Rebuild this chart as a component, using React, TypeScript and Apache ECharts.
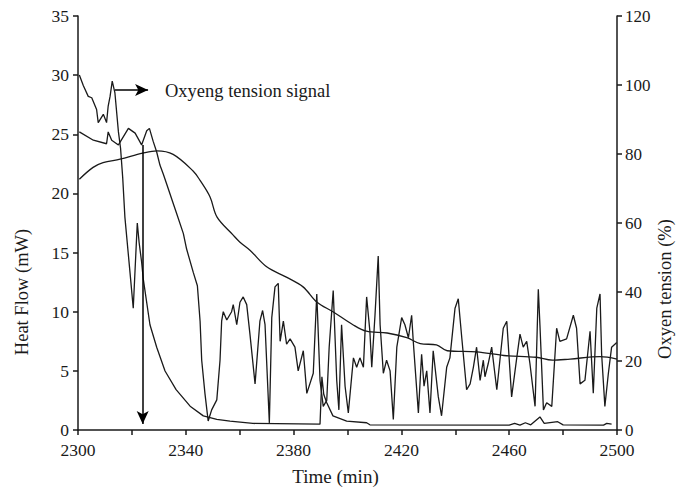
import React, { useEffect, useRef } from "react";
import * as echarts from "echarts";

// Smooth heat-flow curve (left axis, mW)
const heatTimes = [2300.5, 2305.6, 2309.3, 2315.6, 2324, 2329.3, 2335.3, 2342.7, 2345.3, 2349, 2351.6, 2357.5, 2360, 2363.8, 2370, 2377.5, 2383.5, 2388.7, 2394.6, 2402, 2407, 2414.7, 2422, 2427, 2433, 2437, 2448, 2458, 2470, 2476, 2482.6, 2493.7, 2500];
const heatValues = [21.2, 22.2, 22.6, 22.9, 23.4, 23.6, 23.3, 21.9, 21.1, 19.7, 18.0, 16.5, 15.9, 15.2, 13.8, 12.9, 12.1, 10.8, 10.0, 8.9, 8.35, 8.2, 7.8, 7.3, 7.2, 6.7, 6.6, 6.3, 6.15, 5.9, 6.0, 6.2, 6.0];

// Noisy curve (left axis, mW)
const noisyTimes = [2300.5, 2305.7, 2310.6, 2311.2, 2312.5, 2315, 2318.7, 2321.2, 2323.6, 2325.5,
  2326.5, 2327.9, 2329.2, 2330.4, 2331.7, 2332.9, 2335.4, 2336.6, 2339.1, 2340.3,
  2342.8, 2344.3, 2345.3, 2345.9, 2347.1, 2348.3, 2349.6, 2351.5, 2352.7, 2353.3,
  2353.9, 2355.2, 2357, 2357.6, 2358.9, 2360.1, 2361.3, 2362.6, 2363.8, 2365.7,
  2367.5, 2368.5, 2369.4, 2371, 2371.9, 2373.1, 2374.3, 2375, 2376.2, 2377.4,
  2378.7, 2380.5, 2381.7, 2383.6, 2384.9, 2387.3, 2388.6, 2389.8, 2391, 2392.3,
  2393.2, 2394.7, 2396, 2396.8, 2397.8, 2399.1, 2400.3, 2402.2, 2403.4, 2404.6,
  2405.9, 2407.1, 2408.3, 2409, 2410.2, 2411.4, 2412.1, 2413.3, 2414.5, 2415.8,
  2417, 2418.3, 2420.1, 2421.3, 2422.6, 2423.8, 2424.4, 2426.3, 2427.5, 2428.4,
  2429.4, 2430.6, 2431.8, 2433.7, 2434.9, 2436.8, 2438, 2439.9, 2441.1, 2442.4,
  2444.2, 2445.5, 2446.7, 2447.9, 2449.2, 2450.4, 2451, 2452.2, 2453.5, 2455.4,
  2457.8, 2459.1, 2460.9, 2462.8, 2464, 2465.2, 2466.5, 2467.7, 2469.6, 2470.8,
  2471.4, 2472.7, 2473.9, 2475.8, 2477.6, 2478.8, 2481.3, 2483.8, 2485, 2486.3,
  2488.1, 2490, 2491.2, 2492.5, 2493.7, 2494.3, 2495.5, 2496.8, 2498, 2499.9];
const noisyValues = [25.2, 24.5, 24.2, 25.2, 24.5, 24.1, 25.5, 25.1, 24.1, 25.3,
  25.5, 24.4, 23.5, 22.4, 21.6, 20.8, 19.1, 18.3, 16.6, 15.3,
  13.3, 12.2, 9.2, 5.9, 3.1, 0.76, 1.7, 2.55, 5.9, 9.2,
  10.0, 9.3, 10.0, 10.6, 8.9, 10.8, 11.25, 10.6, 8.1, 3.9,
  9.2, 10.1, 8.9, 0.6, 9.5, 12.1, 12.4, 7.5, 9.2, 7.25,
  7.7, 7.0, 5.0, 6.7, 3.1, 4.8, 11.5, 4.2, 2.0, 2.5,
  7.0, 11.8, 4.2, 1.7, 8.9, 3.7, 1.45, 6.1, 5.3, 6.1,
  5.3, 11.25, 8.35, 5.3, 9.7, 14.7, 8.9, 4.8, 5.9, 5.0,
  0.9, 7.0, 9.5, 8.9, 7.8, 9.7, 7.5, 1.45, 6.4, 3.7,
  5.0, 1.45, 6.7, 2.8, 1.2, 5.3, 6.1, 10.3, 11.1, 7.8,
  3.4, 3.9, 5.3, 7.0, 4.2, 5.9, 4.5, 5.6, 7.0, 3.4,
  8.6, 9.2, 2.8, 6.1, 8.1, 7.0, 7.5, 5.6, 2.0, 11.9,
  8.9, 1.7, 2.3, 2.0, 8.6, 7.5, 7.7, 9.7, 8.6, 3.9,
  4.2, 8.35, 3.1, 10.3, 11.5, 6.4, 2.0, 4.8, 7.0, 7.4];

// Oxygen tension signal (right axis, %)
const oxyTimes = [2300.5, 2302, 2303.8, 2305.1, 2306.9, 2307.5, 2309.4, 2310.6, 2311.2, 2311.9,
  2312.7, 2313.7, 2315, 2315.8, 2316.6, 2317.4, 2319.3, 2320.5, 2322, 2322.7,
  2323.6, 2324.2, 2326.7, 2329.2, 2332.3, 2336.4, 2341.6, 2346.5, 2351.5, 2356.4,
  2364.9, 2389.8, 2390.5, 2391.2, 2392.3, 2394.6, 2399.7, 2407.1, 2408.3, 2460,
  2462, 2464, 2466, 2468, 2471.4, 2473, 2478, 2480, 2495, 2496.2, 2498];
const oxyValues = [102.9, 99.8, 96.7, 96.3, 92.9, 89.1, 91.5, 89.1, 93.9, 96.7,
  101.1, 97.7, 86.4, 81.6, 73.0, 61.7, 45.6, 35.3, 60.0, 54.2,
  48.7, 43.9, 30.5, 24.0, 17.1, 11.7, 6.9, 4.1, 3.1, 2.6,
  1.9, 1.7, 15.4, 10.3, 7.9, 4.1, 2.6, 2.1, 1.5, 1.4,
  1.9, 1.4, 2.1, 1.5, 3.8, 1.9, 2.4, 1.5, 1.4, 1.9, 1.7];

const xTicks = [2300, 2340, 2380, 2420, 2460, 2500];

const zip = (t: number[], v: number[]) => t.map((x, i) => [x, v[i]]);

const FONT = "Liberation Serif, Times New Roman, serif";
const INK = "#1a1a1a";

export default function App() {
  const ref = useRef<HTMLDivElement>(null);
  useEffect(() => {
    if (!ref.current) return;
    const chart = echarts.init(ref.current, undefined, { renderer: "svg" });
    const axisCommon = {
      axisLine: { show: true, lineStyle: { color: INK, width: 1.5 } },
      axisTick: { show: true, inside: false, length: 5, lineStyle: { color: INK, width: 1.5 } },
      splitLine: { show: false },
      axisLabel: { color: INK, fontFamily: FONT, fontSize: 17.5 },
    };
    chart.setOption({
      animation: false,
      backgroundColor: "#ffffff",
      grid: { left: 78, right: 63, top: 16, bottom: 53.5, containLabel: false },
      xAxis: {
        type: "value",
        min: 2300,
        max: 2500,
        interval: 20,
        ...axisCommon,
        axisLabel: {
          ...axisCommon.axisLabel,
          margin: 11,
          formatter: (v: number) => (xTicks.includes(v) ? String(v) : ""),
        },
        name: "Time (min)",
        nameLocation: "middle",
        nameGap: 37,
        nameTextStyle: { color: INK, fontFamily: FONT, fontSize: 19, padding: [0, 24, 0, 0] },
      },
      yAxis: [
        {
          type: "value",
          min: 0,
          max: 35,
          interval: 5,
          ...axisCommon,
          axisLabel: { ...axisCommon.axisLabel, margin: 9 },
        },
        {
          type: "value",
          min: 0,
          max: 120,
          interval: 20,
          position: "right",
          ...axisCommon,
          axisLabel: { ...axisCommon.axisLabel, fontSize: 17, margin: 8 },
        },
      ],
      graphic: [
        {
          type: "text",
          x: 22,
          y: 292,
          rotation: Math.PI / 2,
          style: { text: "Heat Flow (mW)", fill: INK, fontFamily: FONT, fontSize: 18.5, align: "center", verticalAlign: "middle" },
        },
        {
          type: "text",
          x: 665,
          y: 289,
          rotation: Math.PI / 2,
          style: { text: "Oxyen tension (%)", fill: INK, fontFamily: FONT, fontSize: 18.5, align: "center", verticalAlign: "middle" },
        },
        {
          type: "text",
          x: 165,
          y: 91,
          style: { text: "Oxyeng tension signal", fill: INK, fontFamily: FONT, fontSize: 18.5, align: "left", verticalAlign: "middle" },
        },
      ],
      series: [
        {
          name: "Heat flow",
          type: "line",
          yAxisIndex: 0,
          data: zip(heatTimes, heatValues),
          showSymbol: false,
          smooth: 0.35,
          lineStyle: { color: INK, width: 1.3 },
        },
        {
          name: "Heat flow (raw)",
          type: "line",
          yAxisIndex: 0,
          data: zip(noisyTimes, noisyValues),
          showSymbol: false,
          clip: false,
          lineStyle: { color: INK, width: 1.3 },
          markLine: {
            silent: true,
            label: { show: false },
            lineStyle: { color: "#000", width: 1.5, type: "solid" },
            symbolSize: [9, 13],
            data: [
              [
                { coord: [2324, 24.1], symbol: "none" },
                { coord: [2324, 0.5], symbol: "arrow" },
              ],
              [
                { coord: [2313.7, 28.75], symbol: "none" },
                { coord: [2326, 28.75], symbol: "arrow" },
              ],
            ],
          },
        },
        {
          name: "Oxygen tension",
          type: "line",
          yAxisIndex: 1,
          data: zip(oxyTimes, oxyValues),
          showSymbol: false,
          lineStyle: { color: INK, width: 1.3 },
        },
      ],
    });
    return () => chart.dispose();
  }, []);
  return <div ref={ref} style={{ position: "fixed", left: 0, top: 0, width: 680, height: 491, background: "#fff" }} />;
}
